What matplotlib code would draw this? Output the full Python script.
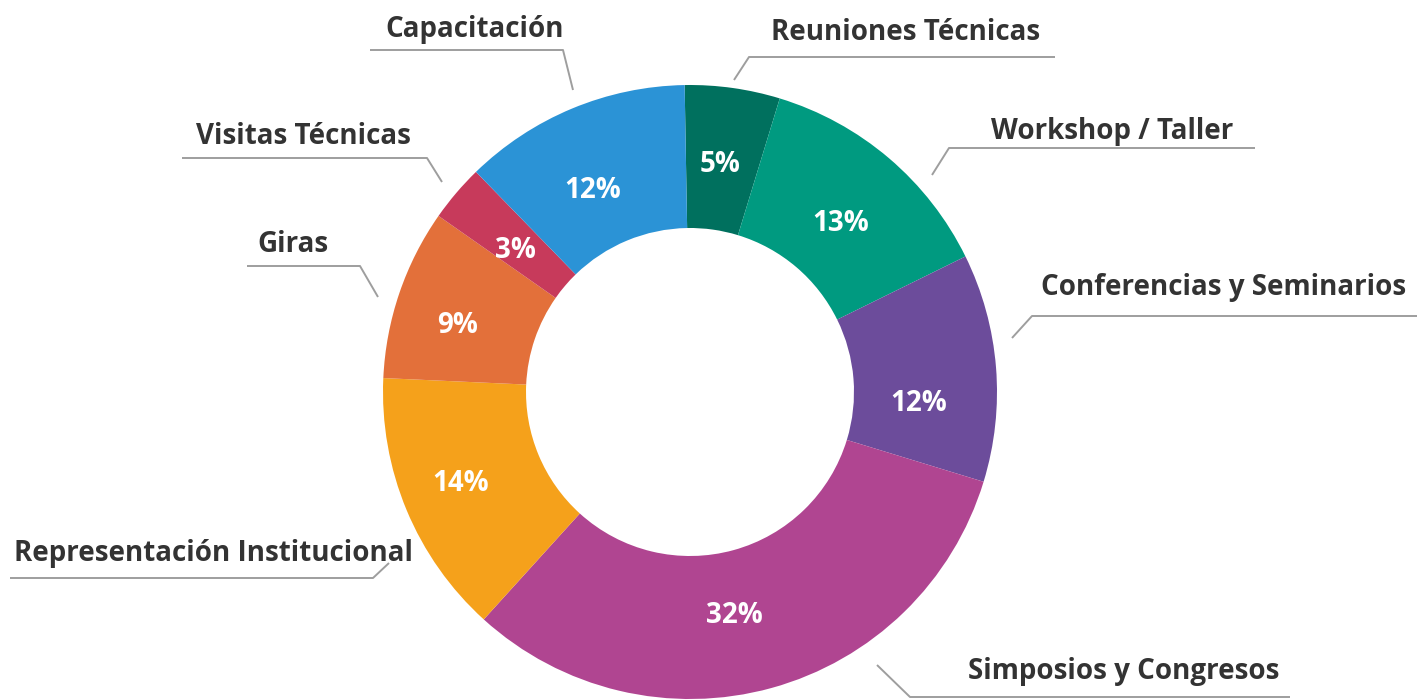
import matplotlib
matplotlib.use("Agg")
import matplotlib.pyplot as plt
import matplotlib.transforms as mtransforms

# Share of activities by type (clockwise from 12 o'clock)
categories = ["Reuniones Técnicas", "Workshop / Taller", "Conferencias y Seminarios",
              "Simposios y Congresos", "Representación Institucional", "Giras",
              "Visitas Técnicas", "Capacitación"]
shares = [5, 13, 12, 32, 14, 9, 3, 12]
colors = ["#00705e", "#009a80", "#6c4c9b", "#b04591", "#f5a11b", "#e3703a",
          "#c73a5b", "#2b93d6"]

W, H = 1417, 700
fig = plt.figure(figsize=(W / 100, H / 100), dpi=100)
ax = fig.add_axes([0, 0, 1, 1])

family = ["Open Sans", "DejaVu Sans"]
cx, cy, r_out, r_in = 690, 392, 307, 164

wedges, _, pcts = ax.pie(
    shares, startangle=91, counterclock=False, center=(cx, -cy), radius=r_out,
    colors=colors, autopct="%d%%", pctdistance=(r_out + r_in) / 2 / r_out,
    wedgeprops=dict(width=r_out - r_in, edgecolor="none"),
    textprops=dict(color="white", fontsize=20, fontweight="bold", family=family),
    frame=True,
)
# pie draws in y-up space; flip it into the top-down layout used for the labels
flip = mtransforms.Affine2D().scale(1, -1)
for w in wedges:
    w.set_transform(flip + ax.transData)

# small hand nudges of the percentage labels inside the ring
pct_nudge = {
    "Reuniones Técnicas": (-3, 6),
    "Workshop / Taller": (-2, 11),
    "Conferencias y Seminarios": (-6, 30),
    "Simposios y Congresos": (-18, -4),
    "Representación Institucional": (-12, 1),
    "Giras": (-10, 9),
    "Visitas Técnicas": (5, 11),
    "Capacitación": (-7, 16),
}
for name, t in zip(categories, pcts):
    x, y = t.get_position()
    dx, dy = pct_nudge[name]
    t.set_position((x + dx, -y + dy))

ax.set_xlim(0, W)
ax.set_ylim(H, 0)
ax.set_aspect("equal")
ax.axis("off")

# Category labels with elbow leader lines: (text x, text y, leader path)
label_layout = {
    "Capacitación": (475, 30, [(370, 50), (563, 50), (573, 90)]),
    "Reuniones Técnicas": (906, 33, [(734, 80), (749, 57), (1055, 57)]),
    "Workshop / Taller": (1112, 131, [(932, 175), (949, 148), (1255, 148)]),
    "Conferencias y Seminarios": (1224, 287, [(1012, 338), (1032, 316), (1417, 316)]),
    "Simposios y Congresos": (1124, 672, [(877, 665), (910, 697), (1290, 697)]),
    "Representación Institucional": (213, 553, [(10, 578), (373, 578), (389, 563)]),
    "Giras": (293, 245, [(247, 266), (360, 266), (378, 297)]),
    "Visitas Técnicas": (303, 137, [(182, 158), (427, 158), (442, 182)]),
}
for name in categories:
    tx, ty, path = label_layout[name]
    xs, ys = zip(*path)
    ax.plot(xs, ys, color="#9e9e9e", lw=1.4, solid_capstyle="butt")
    ax.text(tx, ty, name, ha="center", va="center", fontsize=20, fontweight="bold",
            color="#333333", family=family)

fig.savefig("out.png", dpi=100, facecolor="white")
